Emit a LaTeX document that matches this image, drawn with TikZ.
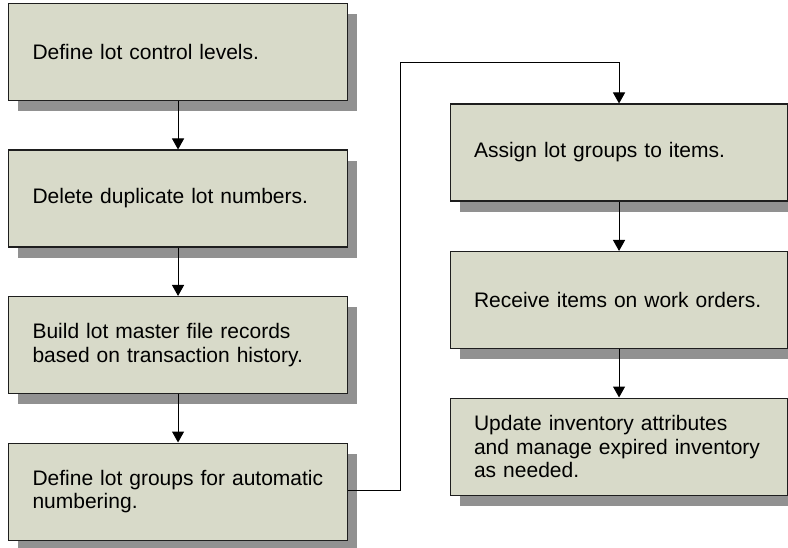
\documentclass[tikz,border=0pt]{standalone}
\usepackage{fontspec}
\setmainfont{Liberation Sans}
\usetikzlibrary{shadows,arrows.meta}
\definecolor{boxfill}{RGB}{216,218,201}
\definecolor{shadowgray}{RGB}{145,145,145}
\definecolor{edgecol}{RGB}{30,30,30}
\tikzset{
  stepbox/.style={draw=edgecol, line width=1.1pt, fill=boxfill, anchor=north west,
    minimum width=339pt, minimum height=97pt, text width=291pt, inner xsep=24pt, inner ysep=0pt,
    align=left, font=\fontsize{21pt}{23.5pt}\selectfont,
    drop shadow={shadow xshift=9.5pt, shadow yshift=-10.5pt, fill=shadowgray, opacity=1}},
  conn/.style={draw=black, line width=1pt, -{Triangle[length=11pt,width=12pt]}}
}
\begin{document}
\begin{tikzpicture}[x=1pt,y=-1pt]
\useasboundingbox (0,0) rectangle (788,548);
\node[stepbox] (b1) at (8,3) {Define lot control levels.};
\node[stepbox] (b2) at (8,149.5) {Delete duplicate lot numbers.};
\node[stepbox] (b3) at (8,296) {Build lot master file records\\based on transaction history.};
\node[stepbox] (b4) at (8,442.5) {Define lot groups for automatic\\numbering.};
\node[stepbox, minimum width=337pt, text width=290pt, inner xsep=23.5pt] (r1) at (450,103.5) {Assign lot groups to items.};
\node[stepbox, minimum width=337pt, text width=290pt, inner xsep=23.5pt] (r2) at (450,251) {Receive items on work orders.};
\node[stepbox, minimum width=337pt, text width=290pt, inner xsep=23.5pt] (r3) at (450,397.5) {Update inventory attributes\\and manage expired inventory\\as needed.};
\coordinate (c1) at (400,490);
\coordinate (c2) at (400,63);
\draw[conn] (b1) -- (b2);
\draw[conn] (b2) -- (b3);
\draw[conn] (b3) -- (b4);
\draw[conn] (b4.east |- c1) -- (c1) -- (c2) -- (c2 -| r1.north) -- (r1.north);
\draw[conn] (r1) -- (r2);
\draw[conn] (r2) -- (r3);
\end{tikzpicture}
\end{document}
